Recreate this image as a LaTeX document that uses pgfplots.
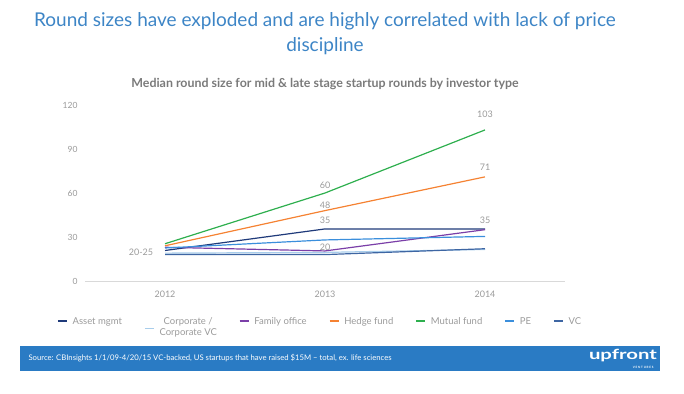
\documentclass[border=0pt]{standalone}
\usepackage{fontspec}
\setmainfont{Lato}
\usepackage{pgfplots}
\pgfplotsset{compat=1.18}
\definecolor{titleblue}{HTML}{3D85C6}
\definecolor{footblue}{HTML}{2A7BC4}
\definecolor{tickgray}{HTML}{9A9A9A}
\definecolor{subgray}{HTML}{7A7A7A}
\definecolor{cAsset}{HTML}{1F3A7A}
\definecolor{cCorp}{HTML}{A8CDEB}
\definecolor{cFam}{HTML}{7B3FA8}
\definecolor{cHedge}{HTML}{F58232}
\definecolor{cMutual}{HTML}{2EAF4E}
\definecolor{cPE}{HTML}{3B8FDC}
\definecolor{cVC}{HTML}{3E66A3}
\begin{document}
\begin{tikzpicture}
\useasboundingbox (0pt,0pt) rectangle (684pt,393pt);
% title
\node[text=titleblue, font=\fontsize{19}{25}\selectfont, align=center] at (325pt,359pt) {Round sizes have exploded and are highly correlated with lack of price\\discipline};
\node[text=subgray, font=\bfseries\fontsize{12.4}{14}\selectfont] at (325pt,309pt) {Median round size for mid \& late stage startup rounds by investor type};
% footer
\fill[footblue] (20pt,22pt) rectangle (660pt,47pt);
\node[text=white, anchor=west, font=\fontsize{7.7}{9}\selectfont] at (25pt,34.5pt) {Source: CBInsights 1/1/09-4/20/15 VC-backed, US startups that have raised \$15M -- total, ex. life sciences};
\node[text=white, anchor=east, xscale=1.45, font=\bfseries\fontsize{14}{16}\selectfont] at (662pt,37.5pt) {upfront};
\node[text=white, anchor=east, font=\bfseries\fontsize{3}{3}\selectfont] at (657pt,25.5pt) {V E N T U R E S};
\begin{axis}[
  at={(85pt,112pt)}, anchor=south west,
  scale only axis, width=480pt, height=176pt,
  xmin=2011.5, xmax=2014.5, ymin=0, ymax=120,
  axis x line=bottom, axis y line=left,
  x axis line style={draw=black!15, -},
  y axis line style={draw=none},
  xtick={2012,2013,2014},
  xticklabels={2012,2013,2014},
  ytick={0,30,60,90,120},
  major tick length=0pt,
  /pgf/number format/assume math mode=true,
  tick label style={text=tickgray, font=\fontsize{8.5}{10}\selectfont},
  xticklabel style={yshift=-6pt, font=\fontsize{9}{10}\selectfont},
  yticklabel style={xshift=-4pt},
  clip=false,
  legend columns=7,
  legend style={at={(-0.065,-0.175)}, anchor=north west, draw=none, fill=none,
    font=\fontsize{9.5}{11.5}\selectfont, text=tickgray,
    cells={anchor=base west},
    /tikz/every odd column/.append style={column sep=3pt},
    /tikz/every even column/.append style={column sep=20pt}},
  legend image code/.code={\draw[#1, line width=1.6pt] (0pt,0.28em) -- (9pt,0.28em);},
  every axis plot/.append style={line width=1.2pt},
]
\addplot[cAsset] coordinates {(2012,20.8) (2013,35.5) (2014,35.5)};
\addlegendentry{Asset mgmt}
\addplot[cCorp, legend image code/.code={\draw[cCorp, line width=1.6pt] (0pt,-0.45em) -- (9pt,-0.45em);}] coordinates {(2012,19) (2013,19.5) (2014,21.5)};
\addlegendentry{\begin{tabular}[t]{@{}c@{}}Corporate /\\Corporate VC\end{tabular}}
\addplot[cFam] coordinates {(2012,23) (2013,20.5) (2014,35)};
\addlegendentry{Family office}
\addplot[cHedge] coordinates {(2012,24) (2013,48) (2014,71)};
\addlegendentry{Hedge fund}
\addplot[cMutual] coordinates {(2012,25.4) (2013,60) (2014,103)};
\addlegendentry{Mutual fund}
\addplot[cPE] coordinates {(2012,22.5) (2013,28) (2014,30.4)};
\addlegendentry{PE}
\addplot[cVC] coordinates {(2012,18) (2013,18) (2014,22)};
\addlegendentry{VC}
% data labels
\node[text=tickgray, font=\fontsize{9}{10}\selectfont] at (axis cs:2011.85,19.9) {20-25};
\node[text=tickgray, font=\fontsize{9}{10}\selectfont] at (axis cs:2013,65.2) {60};
\node[text=tickgray, font=\fontsize{9}{10}\selectfont] at (axis cs:2013,51.4) {48};
\node[text=tickgray, font=\fontsize{9}{10}\selectfont] at (axis cs:2013,41.2) {35};
\node[text=tickgray, font=\fontsize{9}{10}\selectfont] at (axis cs:2013,23.3) {20};
\node[text=tickgray, font=\fontsize{9}{10}\selectfont] at (axis cs:2014,113.9) {103};
\node[text=tickgray, font=\fontsize{9}{10}\selectfont] at (axis cs:2014,77.5) {71};
\node[text=tickgray, font=\fontsize{9}{10}\selectfont] at (axis cs:2014,41.2) {35};
\end{axis}
\end{tikzpicture}
\end{document}
